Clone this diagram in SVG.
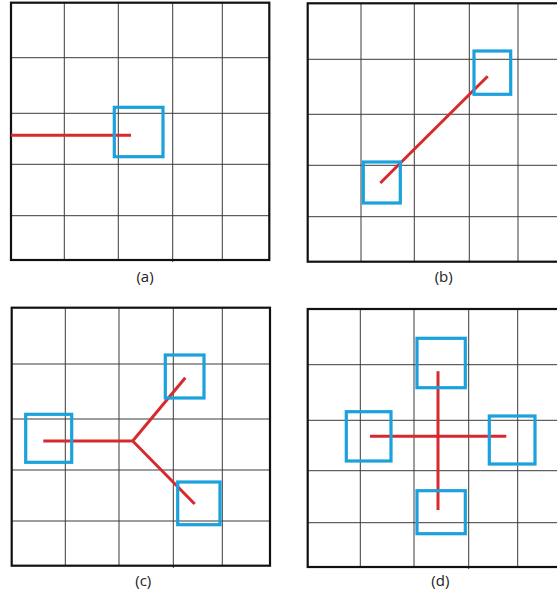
<svg xmlns="http://www.w3.org/2000/svg" width="557" height="595" viewBox="0 0 557 595">
<style>
.grid{stroke:#3a3a3a;stroke-width:1;fill:none}
.frame{stroke:#111;stroke-width:2.2;fill:none}
.node{stroke:#1ba1dc;stroke-width:3.2;fill:none}
.link{stroke:#d62a2e;stroke-width:3;fill:none;stroke-linecap:butt}
.lbl{font-family:"Open Sans","Noto Sans",sans-serif;font-size:15px;fill:#222;text-anchor:middle}
</style>
<rect width="557" height="595" fill="#fff"/>
<!-- panel a -->
<g id="panel-a">
<path class="grid" d="M64.3 2.7V260M118.3 2.7V260M172.7 2.7V262M222.3 2.7V260M11 57.7H269.3M11 113.3H269.3M11 164.3H269.3M11 215.7H269.3"/>
<rect class="frame" x="11" y="2.7" width="258.3" height="257.3"/>
<text class="lbl" x="145" y="282">(a)</text>
</g>
<!-- panel b -->
<g id="panel-b">
<path class="grid" d="M361 3.3V261.7M414.3 3.3V261.7M469.3 3.3V263M518 3.3V261.7M307.7 59.3H557M307.7 114.3H557M307.7 165.3H557M307.7 216.7H557"/>
<rect class="frame" x="307.7" y="3.3" width="270" height="258.4"/>
<text class="lbl" x="443.7" y="282">(b)</text>
</g>
<!-- panel c -->
<g id="panel-c">
<path class="grid" d="M65.3 307.7V565.7M119 307.7V565.7M173.3 307.7V568M222.3 307.7V565.7M11.7 364H270M11.7 419H270M11.7 470H270M11.7 521H270"/>
<rect class="frame" x="11.7" y="307.7" width="258.3" height="258"/>
<text class="lbl" x="143.3" y="586">(c)</text>
</g>
<!-- panel d -->
<g id="panel-d">
<path class="grid" d="M360.3 309V567M414 309V567M468.7 309V569M517.7 309V567M307.7 364.7H557M307.7 420.3H557M307.7 470.7H557M307.7 522.7H557"/>
<rect class="frame" x="307.7" y="309" width="270" height="258"/>
<text class="lbl" x="440.3" y="586">(d)</text>
</g>
<g id="connectors">
<path class="link" d="M11 135.3H131"/>
<path class="link" d="M380.3 183L487.7 76.3"/>
<path class="link" d="M43.3 441H132.7L185.3 377.7M132.7 441L194.7 504"/>
<path class="link" d="M438 371.3V510M370 436.3H506.3"/>
</g>
<g id="node-a1"><rect class="node" x="114.3" y="107.3" width="48.7" height="49.4"/></g>
<g id="node-b1"><rect class="node" x="474" y="51" width="36.7" height="43.3"/></g>
<g id="node-b2"><rect class="node" x="363.3" y="162" width="37" height="41"/></g>
<g id="node-c1"><rect class="node" x="25.7" y="414.3" width="46" height="48"/></g>
<g id="node-c2"><rect class="node" x="165.3" y="355" width="38.7" height="43"/></g>
<g id="node-c3"><rect class="node" x="177.7" y="482" width="42.3" height="42.7"/></g>
<g id="node-d1"><rect class="node" x="417" y="338.3" width="48.3" height="49.4"/></g>
<g id="node-d2"><rect class="node" x="346.3" y="411.7" width="44.7" height="49.3"/></g>
<g id="node-d3"><rect class="node" x="489.3" y="416" width="45.7" height="48"/></g>
<g id="node-d4"><rect class="node" x="417" y="490.7" width="48.3" height="43"/></g>
</svg>
